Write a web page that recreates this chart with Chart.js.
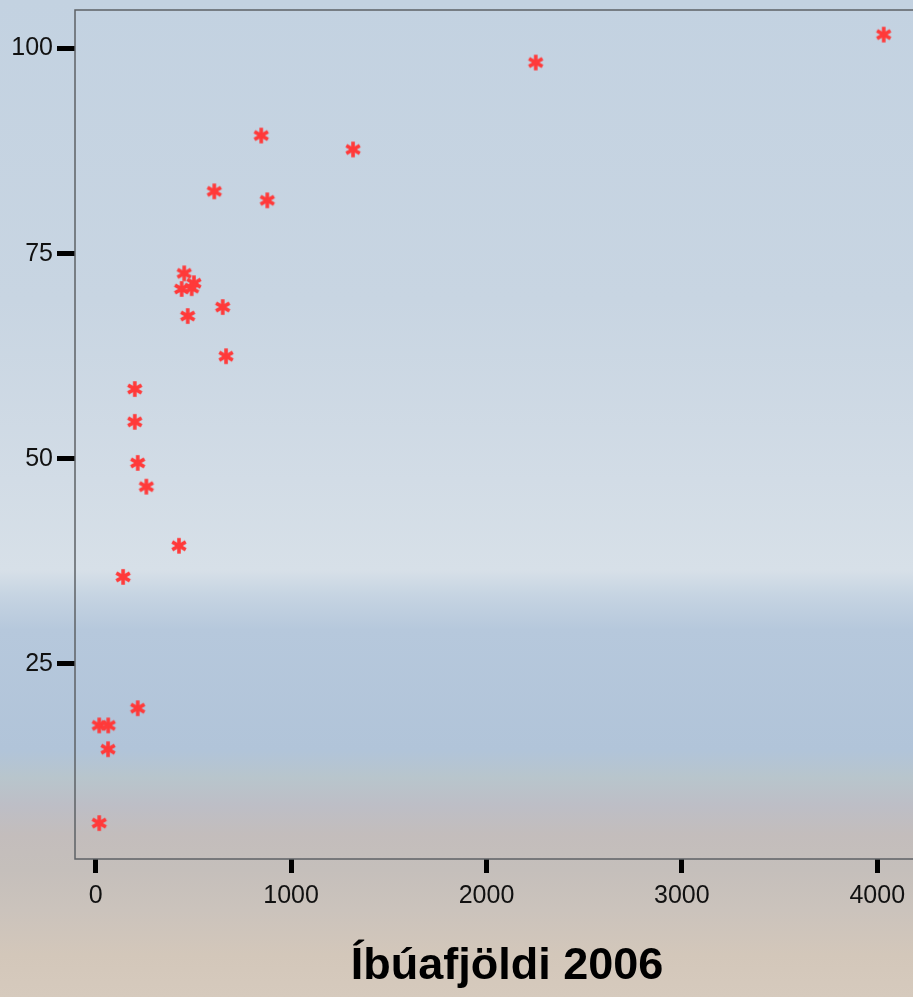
<!DOCTYPE html>
<html>
<head>
<meta charset="utf-8">
<script src="https://cdn.jsdelivr.net/npm/chart.js@4.4.1/dist/chart.umd.min.js"></script>
<style>
  html, body { margin: 0; padding: 0; width: 913px; height: 997px; overflow: hidden; }
  body {
    background: linear-gradient(to bottom,
      #c3d2e1 0px, #c8d5e2 300px, #d2dce6 480px, #d7e0e8 570px,
      #c6d4e2 595px, #b6c8dc 630px, #b1c4d9 750px, #b8c5cc 778px,
      #bdbec6 805px, #c3bdbc 835px, #c5bfbb 870px, #cbc3bc 910px,
      #d3c7ba 955px, #d6cabd 997px);
  }
  #wrap { position: absolute; left: 0; top: 0; width: 948px; height: 997px; }
</style>
</head>
<body>
<div id="wrap"><canvas id="chart" width="948" height="997"></canvas></div>
<script>
// population 2006 (x) vs percentage (y)
const population = [4033, 2252, 847, 1317, 607, 878, 453, 503, 440, 491, 650, 471,
                    667, 200, 200, 215, 259, 426, 140, 215, 18, 64, 63, 18];
const percent = [101.7, 98.3, 89.4, 87.7, 82.6, 81.5, 72.6, 71.4, 70.7, 70.8, 68.5, 67.4,
                 62.5, 58.5, 54.5, 49.5, 46.6, 39.4, 35.6, 19.6, 17.5, 17.5, 14.6, 5.6];
const xTicks = [0, 1000, 2000, 3000, 4000];
const yTicks = [25, 50, 75, 100];
const xTitle = 'Íbúafjöldi 2006';

// red asterisk marker
function makeAsterisk() {
  const c = document.createElement('canvas');
  c.width = 20; c.height = 20;
  const g = c.getContext('2d');
  g.strokeStyle = '#ff3a3a';
  g.lineWidth = 3.6;
  const r = 7.8;
  [90, 30, 150].forEach(a => {
    const rad = a * Math.PI / 180;
    const dx = Math.cos(rad) * r, dy = Math.sin(rad) * r;
    g.beginPath();
    g.moveTo(10 - dx, 10 - dy);
    g.lineTo(10 + dx, 10 + dy);
    g.stroke();
  });
  return c;
}

const frame = {
  id: 'frame',
  beforeDatasetsDraw(chart) {
    const a = chart.chartArea;
    const ctx = chart.ctx;
    ctx.save();
    ctx.strokeStyle = '#5e6166';
    ctx.lineWidth = 1.5;
    ctx.strokeRect(a.left, a.top, a.right - a.left, a.bottom - a.top);
    ctx.restore();
  }
};

const tickFont = { family: "'Liberation Sans', Arial, sans-serif", size: 25 };

new Chart(document.getElementById('chart'), {
  type: 'scatter',
  data: {
    datasets: [{
      data: population.map((p, i) => ({ x: p, y: percent[i] })),
      pointStyle: makeAsterisk(),
      pointRadius: 8,
      pointHoverRadius: 8
    }]
  },
  options: {
    responsive: false,
    animation: false,
    layout: { padding: { top: 10, left: 0, right: 0, bottom: 0 } },
    plugins: { legend: { display: false }, tooltip: { enabled: false } },
    scales: {
      x: {
        type: 'linear',
        min: -106,
        max: 4316,
        afterBuildTicks: s => { s.ticks = xTicks.map(v => ({ value: v })); },
        afterFit: s => { s.height = 138; s.paddingLeft = 0; s.paddingRight = 0; },
        border: { display: false },
        grid: { drawOnChartArea: false, tickLength: 14, tickWidth: 5, tickColor: '#000' },
        ticks: { color: '#111', font: tickFont, padding: 8, maxRotation: 0, callback: v => String(v) },
        title: {
          display: true,
          text: xTitle,
          color: '#000',
          font: { family: "'Liberation Sans', Arial, sans-serif", size: 45, weight: 'bold', lineHeight: 1.2 },
          padding: { top: 0, bottom: 3 }
        }
      },
      y: {
        type: 'linear',
        min: 1.22,
        max: 104.7,
        afterBuildTicks: s => { s.ticks = yTicks.map(v => ({ value: v })); },
        afterFit: s => { s.width = 75; s.paddingTop = 0; s.paddingBottom = 0; },
        border: { display: false },
        grid: { drawOnChartArea: false, tickLength: 18, tickWidth: 5, tickColor: '#000' },
        ticks: { color: '#111', font: tickFont, padding: 4, callback: v => String(v) }
      }
    }
  },
  plugins: [frame]
});
</script>
</body>
</html>
